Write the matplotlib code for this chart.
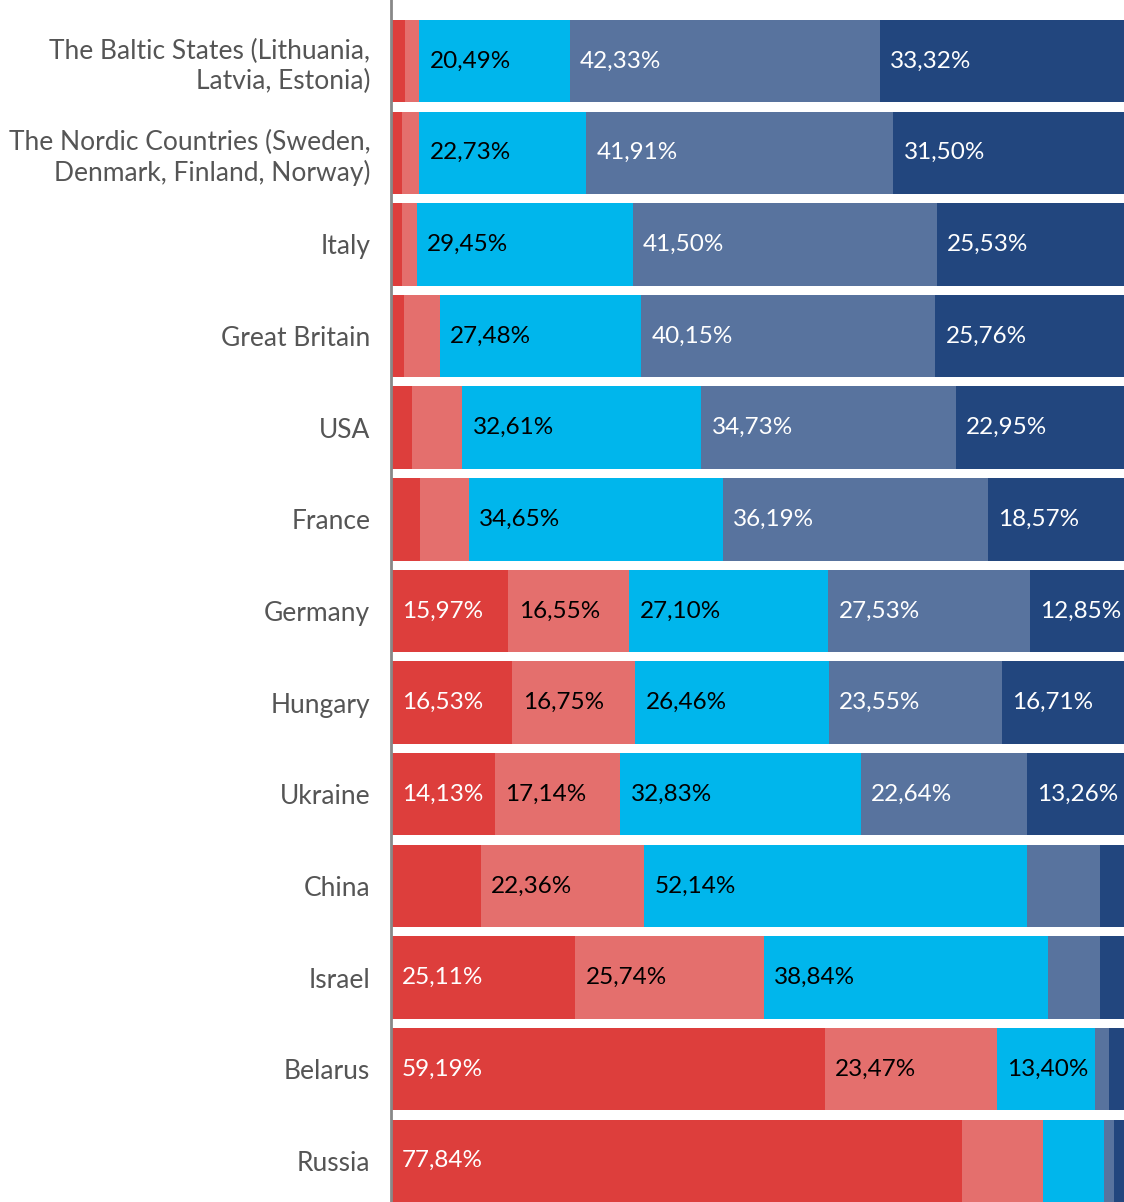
import matplotlib.pyplot as plt
import numpy as np

countries = [
    "The Baltic States (Lithuania,\nLatvia, Estonia)",
    "The Nordic Countries (Sweden,\nDenmark, Finland, Norway)",
    "Italy", "Great Britain", "USA", "France", "Germany", "Hungary",
    "Ukraine", "China", "Israel", "Belarus", "Russia",
]

# five answer groups, left to right (percent)
very_negative = [1.90, 1.50, 1.50, 1.80, 2.90, 4.00, 15.97, 16.53, 14.13, 12.20, 25.11, 59.19, 77.84]
negative = [1.96, 2.36, 2.02, 4.81, 6.81, 6.59, 16.55, 16.75, 17.14, 22.36, 25.74, 23.47, 11.10]
neutral = [20.49, 22.73, 29.45, 27.48, 32.61, 34.65, 27.10, 26.46, 32.83, 52.14, 38.84, 13.40, 8.30]
positive = [42.33, 41.91, 41.50, 40.15, 34.73, 36.19, 27.53, 23.55, 22.64, 10.00, 7.10, 1.90, 1.40]
very_positive = [33.32, 31.50, 25.53, 25.76, 22.95, 18.57, 12.85, 16.71, 13.26, 3.30, 3.21, 2.04, 1.36]

series = [very_negative, negative, neutral, positive, very_positive]
colors = ["#DD3E3C", "#E46F6D", "#00B6EC", "#58739E", "#22467E"]
text_colors = ["white", "black", "black", "white", "white"]
LABEL_MIN = 12.5

plt.rcParams["font.family"] = ["Lato", "DejaVu Sans"]

fig = plt.figure(figsize=(11.24, 12.02), dpi=100)
ax = fig.add_axes([0.348, 0.0, 0.652, 1.0])

y = np.arange(len(countries))
left = np.zeros(len(countries))
for vals, col, tcol in zip(series, colors, text_colors):
    vals = np.array(vals)
    ax.barh(y, vals, left=left, height=0.9, color=col, linewidth=0)
    for yi, (l, v) in enumerate(zip(left, vals)):
        if v >= LABEL_MIN:
            ax.annotate(f"{v:.2f}%".replace(".", ","), xy=(l, yi), xytext=(7.5, 0),
                        textcoords="offset points", ha="left", va="center",
                        fontsize=17.5, color=tcol)
    left += vals

ax.set_xlim(0, 100)
ax.set_ylim(12.45, -0.668)
ax.set_yticks(y)
ax.set_yticklabels(countries, fontsize=19, color="#555555", linespacing=1.25)
ax.tick_params(axis="y", length=0, pad=15)
ax.set_xticks([])
for s in ["top", "right", "bottom"]:
    ax.spines[s].set_visible(False)
ax.spines["left"].set_color("#888888")
ax.spines["left"].set_linewidth(2)

fig.savefig("out.png", dpi=100)
